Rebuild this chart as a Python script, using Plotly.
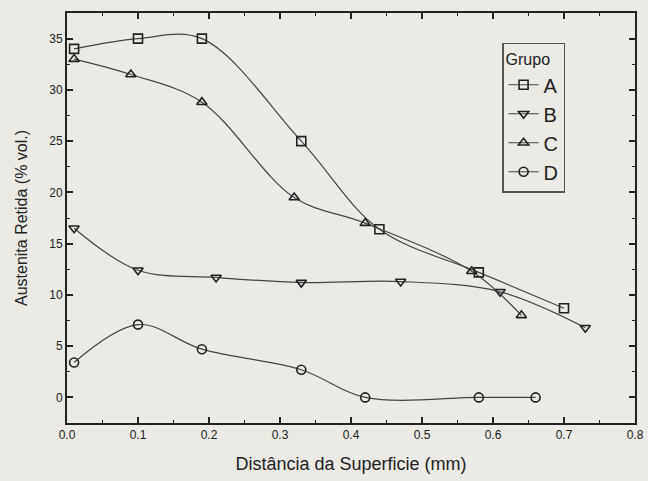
import plotly.graph_objects as go

# Data
a_x = [0.01, 0.10, 0.19, 0.33, 0.44, 0.58, 0.70]
a_y = [34.0, 35.0, 35.0, 25.0, 16.4, 12.2, 8.7]
b_x = [0.01, 0.10, 0.21, 0.33, 0.47, 0.61, 0.73]
b_y = [16.5, 12.4, 11.7, 11.2, 11.3, 10.3, 6.8]
c_x = [0.01, 0.09, 0.19, 0.32, 0.42, 0.57, 0.64]
c_y = [33.0, 31.5, 28.8, 19.5, 17.0, 12.3, 8.0]
d_x = [0.01, 0.10, 0.19, 0.33, 0.42, 0.58, 0.66]
d_y = [3.4, 7.1, 4.7, 2.7, 0.0, 0.0, 0.0]

series = [
    ("A", a_x, a_y, "square-open"),
    ("B", b_x, b_y, "triangle-down-open"),
    ("C", c_x, c_y, "triangle-up-open"),
    ("D", d_x, d_y, "circle-open"),
]

paper = "#ebeae5"
ink = "#222222"
FONT = "Liberation Sans, Arial, sans-serif"

fig = go.Figure()
for name, xs, ys, sym in series:
    fig.add_trace(go.Scatter(
        x=xs, y=ys, name=name, mode="lines+markers",
        line=dict(color="#444444", width=1.2, shape="spline", smoothing=1.0),
        marker=dict(symbol=sym, size=9, color=ink, line=dict(width=1.6, color=ink)),
    ))

axis_common = dict(
    showline=True, linecolor=ink, linewidth=2, mirror="ticks",
    ticks="inside", ticklen=6, tickwidth=1.5, tickcolor=ink,
    showgrid=False, zeroline=False, automargin=False,
    tickfont=dict(family=FONT, size=12, color=ink),
)

fig.update_xaxes(
    range=[0, 0.8], dtick=0.1, tickformat=".1f",
    minor=dict(ticks="inside", ticklen=3, dtick=0.05, tickcolor=ink, tickwidth=1.2),
    title=dict(text="Distância da Superficie (mm)", standoff=16,
               font=dict(family=FONT, size=18, color=ink)),
    **axis_common,
)
fig.update_yaxes(
    range=[-2.5, 37.5], dtick=5,
    minor=dict(ticks="inside", ticklen=3, dtick=2.5, tickcolor=ink, tickwidth=1.2),
    title=dict(text="Austenita Retida (% vol.)", standoff=18,
               font=dict(family=FONT, size=16, color=ink)),
    **axis_common,
)

fig.update_layout(
    width=648, height=481,
    margin=dict(l=67, r=13, t=13, b=58, autoexpand=False),
    paper_bgcolor=paper, plot_bgcolor=paper,
    font=dict(family=FONT, color=ink),
    legend=dict(
        title=dict(text="Grupo", font=dict(size=16)),
        x=0.766, y=0.927, xanchor="left", yanchor="top",
        bgcolor=paper, bordercolor="#555555", borderwidth=1.5,
        font=dict(size=20, color=ink),
        tracegroupgap=0,
    ),
)

fig.write_html(
    "out.html",
    config={"displayModeBar": False},
    post_script="document.body.style.margin='0';document.body.style.overflow='hidden';",
)
